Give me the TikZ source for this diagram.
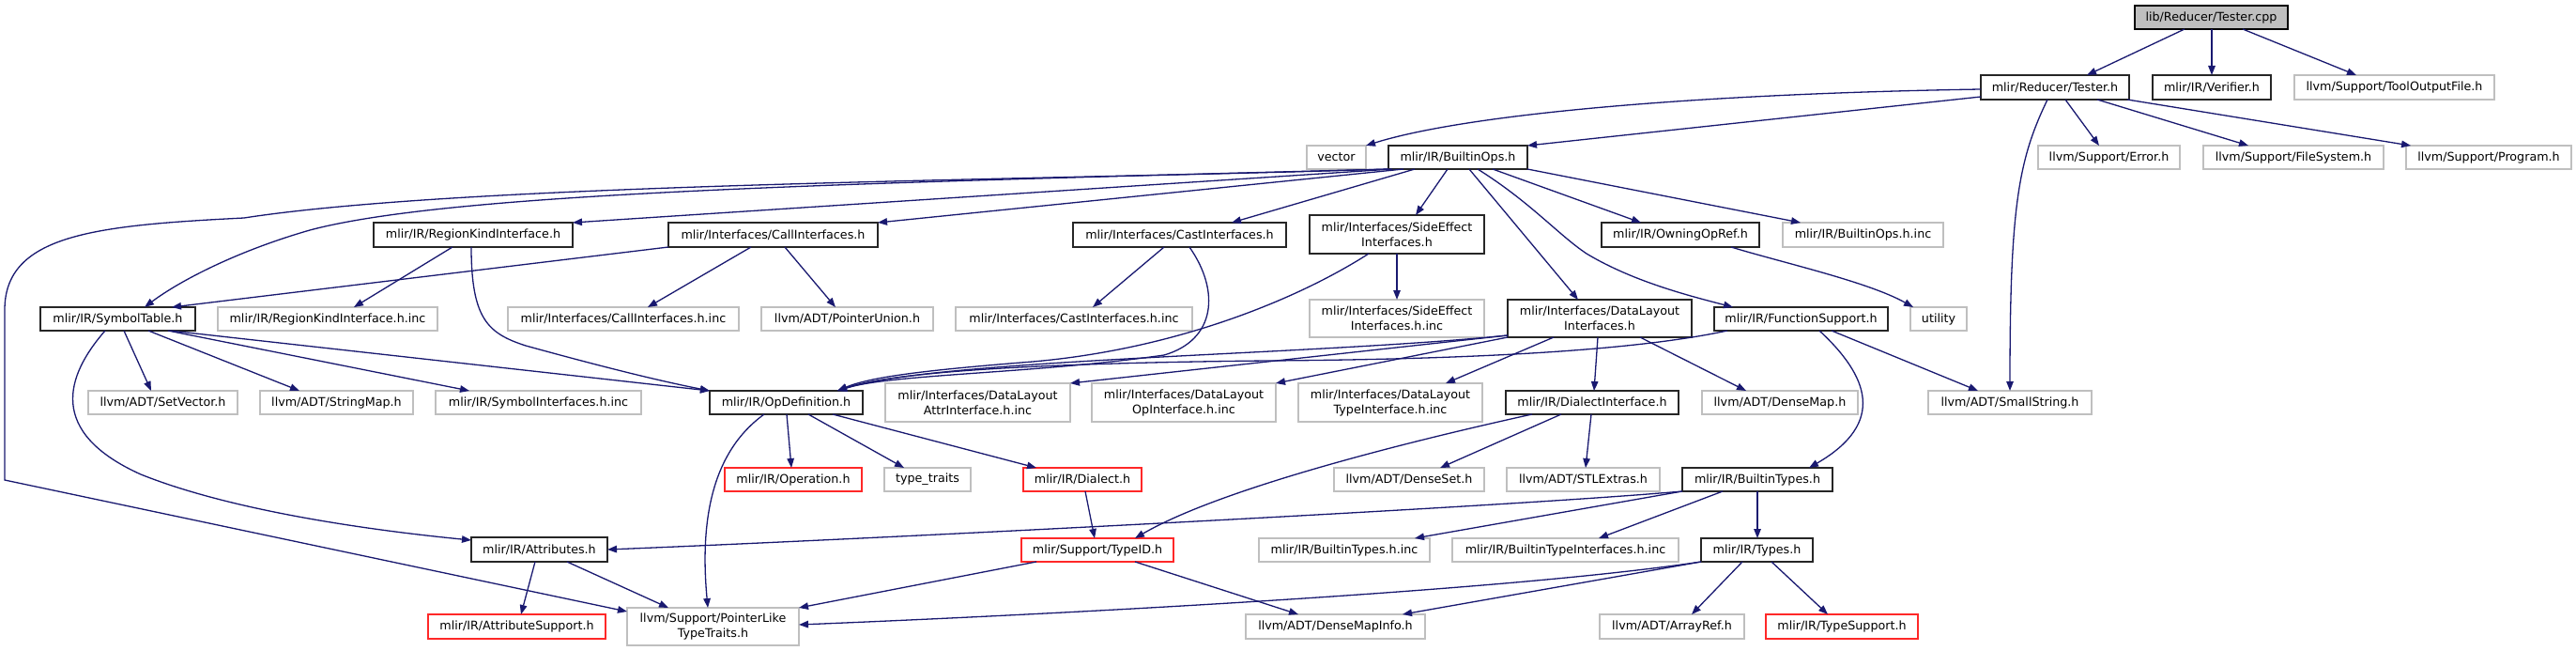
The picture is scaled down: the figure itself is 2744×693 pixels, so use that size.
\documentclass[tikz,border=0pt]{standalone}
\usepackage{fontspec}
\setmainfont{DejaVu Sans}
\usetikzlibrary{arrows.meta}
\definecolor{edgeblue}{RGB}{25,25,112}
\definecolor{extgrey}{RGB}{191,191,191}
\definecolor{truncred}{RGB}{255,40,40}
\definecolor{rootfill}{RGB}{191,191,191}
\newcommand{\nd}[7]{\node[#2, minimum width={(#5)-(#3)}, minimum height={(#6)-(#4)}] (#1) at ({((#3)+(#5))/2},{((#4)+(#6))/2}) {#7};}
\begin{document}
\begin{tikzpicture}[x=1pt,y=-1pt,
  box/.style={draw, line width=1.3pt, inner sep=0pt, outer sep=0pt, align=center, font=\fontsize{12.7}{16}\selectfont, fill=white},
  doc/.style={box, draw=black!85},
  ext/.style={box, draw=extgrey},
  trunc/.style={box, draw=truncred},
  root/.style={box, draw=black, fill=rootfill},
  edg/.style={draw=edgeblue, line width=1.3pt, -{Triangle[length=10pt,width=7.5pt]}}]
\useasboundingbox (0,0) rectangle (2744,693);
\fill[white] (0,0) rectangle (2744,693);
% nodes
\nd{cpp}{root}{2274}{6}{2437}{31}{lib/Reducer/Tester.cpp}
\nd{testerh}{doc}{2110}{80}{2268}{106}{mlir/Reducer/Tester.h}
\nd{verifier}{doc}{2293}{80}{2419}{106}{mlir/IR/Verifier.h}
\nd{tool}{ext}{2444}{80}{2657}{106}{llvm/Support/ToolOutputFile.h}
\nd{error}{ext}{2171}{155}{2322}{180}{llvm/Support/Error.h}
\nd{fs}{ext}{2347}{155}{2539}{180}{llvm/Support/FileSystem.h}
\nd{program}{ext}{2563}{155}{2739}{180}{llvm/Support/Program.h}
\nd{vector}{ext}{1392}{155}{1455}{180}{vector}
\nd{bops}{doc}{1479}{155}{1627}{180}{mlir/IR/BuiltinOps.h}
\nd{region}{doc}{398}{237}{610}{263}{mlir/IR/RegionKindInterface.h}
\nd{call}{doc}{712}{237}{935}{263}{mlir/Interfaces/CallInterfaces.h}
\nd{cast}{doc}{1143}{237}{1370}{263}{mlir/Interfaces/CastInterfaces.h}
\nd{side}{doc}{1395}{229}{1581}{270}{mlir/Interfaces/SideEffect\\Interfaces.h}
\nd{owning}{doc}{1706}{237}{1874}{263}{mlir/IR/OwningOpRef.h}
\nd{bopsinc}{ext}{1899}{237}{2070}{263}{mlir/IR/BuiltinOps.h.inc}
\nd{symtab}{doc}{43}{327}{208}{352}{mlir/IR/SymbolTable.h}
\nd{regioninc}{ext}{232}{327}{466}{352}{mlir/IR/RegionKindInterface.h.inc}
\nd{callinc}{ext}{541}{327}{787}{352}{mlir/Interfaces/CallInterfaces.h.inc}
\nd{punion}{ext}{811}{327}{994}{352}{llvm/ADT/PointerUnion.h}
\nd{castinc}{ext}{1018}{327}{1270}{352}{mlir/Interfaces/CastInterfaces.h.inc}
\nd{sideinc}{ext}{1395}{319}{1581}{359}{mlir/Interfaces/SideEffect\\Interfaces.h.inc}
\nd{dlayout}{doc}{1606}{319}{1802}{359}{mlir/Interfaces/DataLayout\\Interfaces.h}
\nd{funcsup}{doc}{1826}{327}{2011}{352}{mlir/IR/FunctionSupport.h}
\nd{utility}{ext}{2035}{327}{2095}{352}{utility}
\nd{setvec}{ext}{94}{416}{253}{441}{llvm/ADT/SetVector.h}
\nd{strmap}{ext}{277}{416}{440}{441}{llvm/ADT/StringMap.h}
\nd{syminc}{ext}{464}{416}{683}{441}{mlir/IR/SymbolInterfaces.h.inc}
\nd{opdef}{doc}{756}{416}{919}{441}{mlir/IR/OpDefinition.h}
\nd{dlattr}{ext}{943}{408}{1140}{449}{mlir/Interfaces/DataLayout\\AttrInterface.h.inc}
\nd{dlop}{ext}{1163}{408}{1359}{449}{mlir/Interfaces/DataLayout\\OpInterface.h.inc}
\nd{dltype}{ext}{1383}{408}{1579}{449}{mlir/Interfaces/DataLayout\\TypeInterface.h.inc}
\nd{dialint}{doc}{1604}{416}{1788}{441}{mlir/IR/DialectInterface.h}
\nd{densemap}{ext}{1813}{416}{1979}{441}{llvm/ADT/DenseMap.h}
\nd{smallstr}{ext}{2054}{416}{2228}{441}{llvm/ADT/SmallString.h}
\nd{operation}{trunc}{772}{498}{918}{523}{mlir/IR/Operation.h}
\nd{typetraits}{ext}{942}{498}{1034}{523}{type\_traits}
\nd{dialect}{trunc}{1090}{498}{1216}{523}{mlir/IR/Dialect.h}
\nd{denseset}{ext}{1421}{498}{1581}{523}{llvm/ADT/DenseSet.h}
\nd{stlextras}{ext}{1605}{498}{1768}{523}{llvm/ADT/STLExtras.h}
\nd{btypes}{doc}{1792}{498}{1952}{523}{mlir/IR/BuiltinTypes.h}
\nd{attrs}{doc}{502}{572}{647}{598}{mlir/IR/Attributes.h}
\nd{typeid}{trunc}{1088}{573}{1250}{598}{mlir/Support/TypeID.h}
\nd{btypesinc}{ext}{1341}{573}{1523}{598}{mlir/IR/BuiltinTypes.h.inc}
\nd{btiinc}{ext}{1547}{573}{1788}{598}{mlir/IR/BuiltinTypeInterfaces.h.inc}
\nd{types}{doc}{1812}{573}{1931}{598}{mlir/IR/Types.h}
\nd{attrsup}{trunc}{456}{654}{645}{680}{mlir/IR/AttributeSupport.h}
\nd{ptrlike}{ext}{668}{647}{851}{687}{llvm/Support/PointerLike\\TypeTraits.h}
\nd{dmi}{ext}{1327}{654}{1518}{680}{llvm/ADT/DenseMapInfo.h}
\nd{arrayref}{ext}{1704}{654}{1858}{680}{llvm/ADT/ArrayRef.h}
\nd{typesup}{trunc}{1881}{654}{2043}{680}{mlir/IR/TypeSupport.h}
% edges from Tester.cpp
\draw[edg] (cpp.south -| 2327,0) -- (testerh.north -| 2223,0);
\draw[edg] (cpp.south -| 2356,0) -- (verifier.north -| 2356,0);
\draw[edg] (cpp.south -| 2389,0) -- (tool.north -| 2510,0);
% Tester.h
\draw[edg] (testerh.west |- 0,95) .. controls (1800,100) and (1560,122) .. (vector.north east);
\draw[edg] (testerh.west |- 0,103) -- (bops.north east);
\draw[edg] (testerh.south -| 2200,0) -- (error.north -| 2236,0);
\draw[edg] (testerh.south -| 2234,0) -- (fs.north -| 2395,0);
\draw[edg] (testerh.south -| 2266,0) -- (program.north -| 2568,0);
\draw[edg] (testerh.south -| 2181,0) .. controls (2150,170) and (2141,220) .. (smallstr.north -| 2141,0);
% BuiltinOps.h
\draw[edg] (bops.south west) .. controls (1100,192) and (500,195) .. (260,232) .. controls (100,240) and (5,250) .. (5,330) -- (5,511) -- (ptrlike.west |- 0,651);
\draw[edg] (bops.south west) .. controls (900,195) and (480,205) .. (330,245) .. controls (250,268) and (190,300) .. (symtab.north -| 154,0);
\draw[edg] (bops.south -| 1483,0) -- (region.north east);
\draw[edg] (bops.south -| 1495,0) -- (call.north east);
\draw[edg] (bops.south -| 1507,0) -- (cast.north -| 1312,0);
\draw[edg] (bops.south -| 1542,0) -- (side.north -| 1508,0);
\draw[edg] (bops.south -| 1565,0) -- (dlayout.north -| 1681,0);
\draw[edg] (bops.south -| 1574,0) .. controls (1630,215) and (1660,250) .. (1690,270) .. controls (1740,300) and (1800,315) .. (funcsup.north -| 1846,0);
\draw[edg] (bops.south -| 1590,0) -- (owning.north -| 1748,0);
\draw[edg] (bops.south east) -- (bopsinc.north -| 1918,0);
% RegionKindInterface.h
\draw[edg] (region.south -| 482,0) -- (regioninc.north -| 377,0);
\draw[edg] (region.south -| 502,0) .. controls (502,340) and (520,355) .. (560,368) .. controls (640,390) and (700,405) .. (opdef.north west);
% CallInterfaces.h
\draw[edg] (call.south -| 800,0) -- (callinc.north -| 690,0);
\draw[edg] (call.south -| 836,0) -- (punion.north -| 890,0);
\draw[edg] (call.south west) -- (symtab.north -| 183,0);
% CastInterfaces.h
\draw[edg] (cast.south -| 1240,0) -- (castinc.north -| 1164,0);
\draw[edg] (cast.south -| 1267,0) .. controls (1300,310) and (1295,362) .. (1240,378) .. controls (1100,398) and (950,398) .. (opdef.north -| 892,0);
% SideEffectInterfaces.h
\draw[edg] (side.south) -- (sideinc.north);
\draw[edg] (side.south -| 1458,0) .. controls (1380,320) and (1250,372) .. (1100,385) .. controls (1000,393) and (930,400) .. (opdef.north -| 892,0);
% DataLayoutInterfaces.h
\draw[edg] (dlayout.west |- 0,357) .. controls (1400,378) and (1000,382) .. (opdef.north -| 892,0);
\draw[edg] (dlayout.west |- 0,357) -- (dlattr.north east);
\draw[edg] (dlayout.south west) -- (dlop.north east);
\draw[edg] (dlayout.south -| 1655,0) -- (dltype.north -| 1540,0);
\draw[edg] (dlayout.south -| 1702,0) -- (dialint.north -| 1698,0);
\draw[edg] (dlayout.south -| 1747,0) -- (densemap.north -| 1860,0);
% FunctionSupport.h
\draw[edg] (funcsup.south -| 1840,0) .. controls (1720,378) and (1500,383) .. (1350,384) .. controls (1150,386) and (960,393) .. (opdef.north -| 892,0);
\draw[edg] (funcsup.south -| 1951,0) -- (smallstr.north -| 2107,0);
\draw[edg] (funcsup.south -| 1938,0) .. controls (1990,400) and (2010,450) .. (btypes.north -| 1927,0);
% OwningOpRef.h
\draw[edg] (owning.south -| 1844,0) .. controls (1900,280) and (1990,300) .. (utility.north -| 2038,0);
% SymbolTable.h
\draw[edg] (symtab.south -| 112,0) .. controls (70,400) and (50,460) .. (150,505) .. controls (250,545) and (400,565) .. (attrs.west |- 0,575);
\draw[edg] (symtab.south -| 132,0) -- (setvec.north -| 161,0);
\draw[edg] (symtab.south -| 158,0) -- (strmap.north -| 319,0);
\draw[edg] (symtab.south -| 179,0) -- (syminc.north -| 500,0);
\draw[edg] (symtab.south -| 181,0) -- (opdef.north west);
% OpDefinition.h
\draw[edg] (opdef.south -| 814,0) .. controls (760,480) and (745,550) .. (ptrlike.north -| 754,0);
\draw[edg] (opdef.south -| 838,0) -- (operation.north -| 843,0);
\draw[edg] (opdef.south -| 861,0) -- (typetraits.north -| 963,0);
\draw[edg] (opdef.south -| 887,0) -- (dialect.north -| 1104,0);
% Dialect.h
\draw[edg] (dialect.south -| 1156,0) -- (typeid.north -| 1166,0);
% DialectInterface.h
\draw[edg] (dialint.south -| 1632,0) .. controls (1500,470) and (1300,520) .. (typeid.north -| 1209,0);
\draw[edg] (dialint.south -| 1663,0) -- (denseset.north -| 1534,0);
\draw[edg] (dialint.south -| 1695,0) -- (stlextras.north -| 1689,0);
% BuiltinTypes.h
\draw[edg] (btypes.south west) .. controls (1600,540) and (900,575) .. (attrs.east);
\draw[edg] (btypes.south west) -- (btypesinc.north -| 1507,0);
\draw[edg] (btypes.south -| 1835,0) -- (btiinc.north -| 1703,0);
\draw[edg] (btypes.south -| 1872,0) -- (types.north -| 1872,0);
% TypeID.h
\draw[edg] (typeid.south -| 1104,0) -- (ptrlike.north east);
\draw[edg] (typeid.south -| 1209,0) -- (dmi.north -| 1383,0);
% Types.h
\draw[edg] (types.south west) .. controls (1600,630) and (1100,655) .. (ptrlike.east |- 0,665);
\draw[edg] (types.south west) -- (dmi.north -| 1494,0);
\draw[edg] (types.south -| 1856,0) -- (arrayref.north -| 1802,0);
\draw[edg] (types.south -| 1887,0) -- (typesup.north -| 1947,0);
% Attributes.h
\draw[edg] (attrs.south -| 570,0) -- (attrsup.north -| 555,0);
\draw[edg] (attrs.south -| 604,0) -- (ptrlike.north -| 712,0);
\end{tikzpicture}
\end{document}
